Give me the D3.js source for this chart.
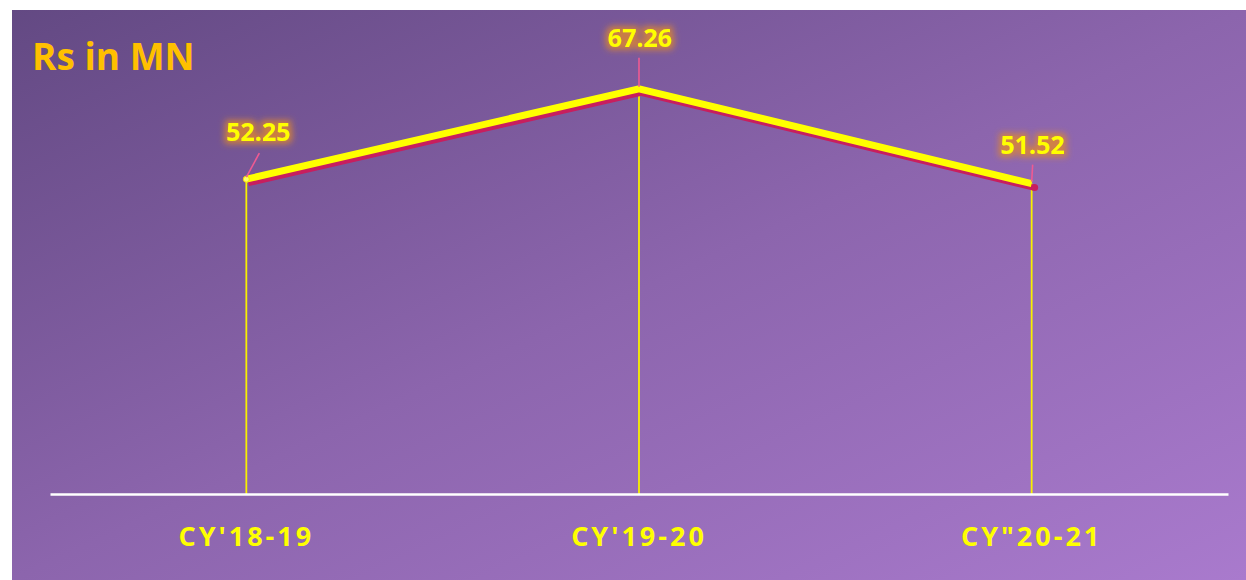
<!DOCTYPE html>
<html>
<head>
<meta charset="utf-8">
<script src="https://cdn.jsdelivr.net/npm/d3@7/dist/d3.min.js"></script>
<style>
  html, body { margin: 0; padding: 0; background: #ffffff; }
  svg { display: block; }
</style>
</head>
<body>
<svg id="chart" width="1246" height="580"></svg>
<script>
// Annual figures, Rs in MN
const categories = ["CY'18-19", "CY'19-20", "CY\"20-21"];
const values = [52.25, 67.26, 51.52];
const valueLabels = ["52.25", "67.26", "51.52"];
const titleText = "Rs in MN";

const W = 1246, H = 580;
const svg = d3.select("#chart");
const defs = svg.append("defs");

// Purple diagonal background
const grad = defs.append("linearGradient")
  .attr("id", "bg").attr("x1", "0%").attr("y1", "0%").attr("x2", "100%").attr("y2", "100%");
grad.append("stop").attr("offset", "0%").attr("stop-color", "#634983");
grad.append("stop").attr("offset", "50%").attr("stop-color", "#8c65ad");
grad.append("stop").attr("offset", "100%").attr("stop-color", "#a97acd");

// Soft orange glow behind value labels
const glow = defs.append("filter").attr("id", "glow")
  .attr("x", "-30%").attr("y", "-50%").attr("width", "160%").attr("height", "200%");
glow.append("feMorphology").attr("in", "SourceAlpha").attr("operator", "dilate").attr("radius", 2.5).attr("result", "d");
glow.append("feGaussianBlur").attr("in", "d").attr("stdDeviation", 3).attr("result", "b");
glow.append("feFlood").attr("flood-color", "#e0882c").attr("flood-opacity", 0.8);
glow.append("feComposite").attr("in2", "b").attr("operator", "in").attr("result", "g");
const gm = glow.append("feMerge");
gm.append("feMergeNode").attr("in", "g");
gm.append("feMergeNode").attr("in", "SourceGraphic");

svg.append("rect")
  .attr("x", 12).attr("y", 10).attr("width", W - 12).attr("height", H - 10)
  .attr("fill", "url(#bg)");

const margin = { left: 50, right: 18, top: 12, bottom: 86 };
const x = d3.scaleBand().domain(categories).range([margin.left, W - margin.right]);
const y = d3.scaleLinear().domain([0, 80]).range([H - margin.bottom, margin.top]);
const cx = c => x(c) + x.bandwidth() / 2;

const data = categories.map((c, i) => ({ c, v: values[i], label: valueLabels[i] }));

// Drop lines from each point to the baseline
svg.append("g").selectAll("line").data(data).join("line")
  .attr("x1", d => cx(d.c)).attr("x2", d => cx(d.c))
  .attr("y1", d => y(d.v)).attr("y2", y(0))
  .attr("stroke", "#f8f000").attr("stroke-width", 1.8);

// Category axis
const axis = d3.axisBottom(x).tickSize(0).tickPadding(0);
const gx = svg.append("g").attr("transform", `translate(0,${y(0)})`).call(axis);
gx.select(".domain").attr("stroke", "#ffffff").attr("stroke-width", 2.5);
gx.selectAll(".tick text")
  .attr("y", 52)
  .attr("fill", "#ffff00")
  .attr("font-family", "'Open Sans', sans-serif")
  .attr("font-weight", 700)
  .attr("font-size", 27)
  .attr("letter-spacing", 3)
  .attr("dy", null);

// Value line with a crimson offset shadow
const line = d3.line().x(d => cx(d.c)).y(d => y(d.v));
svg.append("path").datum(data)
  .attr("d", line)
  .attr("transform", "translate(2,4)")
  .attr("fill", "none").attr("stroke", "#c81e5e").attr("stroke-width", 6);
svg.append("circle")
  .attr("cx", cx(data[2].c) + 3).attr("cy", y(data[2].v) + 4).attr("r", 3.5)
  .attr("fill", "#c81e5e");
svg.append("path").datum(data)
  .attr("d", line)
  .attr("fill", "none").attr("stroke", "#ffff00").attr("stroke-width", 7)
  .attr("stroke-linejoin", "miter");
svg.append("circle")
  .attr("cx", cx(data[0].c)).attr("cy", y(data[0].v)).attr("r", 3)
  .attr("fill", "#ffff66").attr("stroke", "#f7e000").attr("stroke-width", 1);

// Leader lines and value labels
const labelPos = [
  { dx: 12, dy: -48, lx: 13, ly: -26 },
  { dx: 1, dy: -52, lx: 0, ly: -31 },
  { dx: 1, dy: -40, lx: 1, ly: -19 }
];
svg.append("g").selectAll("line").data(data).join("line")
  .attr("x1", d => cx(d.c)).attr("y1", d => y(d.v) - 2)
  .attr("x2", (d, i) => cx(d.c) + labelPos[i].lx)
  .attr("y2", (d, i) => y(d.v) + labelPos[i].ly)
  .attr("stroke", "#ee5a92").attr("stroke-width", 1.6);

svg.append("g").selectAll("text").data(data).join("text")
  .attr("x", (d, i) => cx(d.c) + labelPos[i].dx)
  .attr("y", (d, i) => y(d.v) + labelPos[i].dy)
  .attr("text-anchor", "middle")
  .attr("dominant-baseline", "central")
  .attr("fill", "#ffff00")
  .attr("font-family", "'Open Sans', sans-serif")
  .attr("font-weight", 700)
  .attr("font-size", 25)
  .attr("filter", "url(#glow)")
  .text(d => d.label);

// Title
svg.append("text")
  .attr("x", 32).attr("y", 70)
  .attr("fill", "#ffc000")
  .attr("font-family", "'Open Sans', sans-serif")
  .attr("font-weight", 700)
  .attr("font-size", 37)
  .text(titleText);
</script>
</body>
</html>
